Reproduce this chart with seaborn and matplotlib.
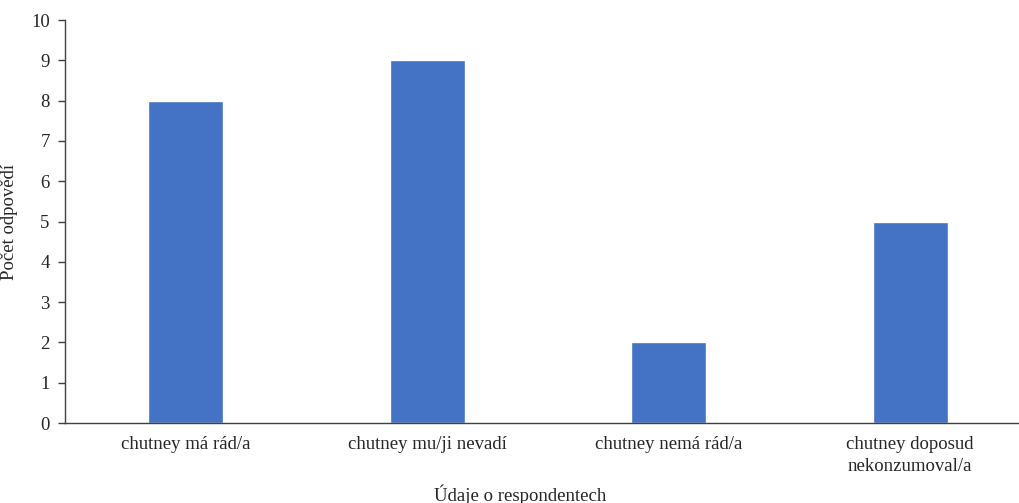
import matplotlib
matplotlib.use("Agg")
import matplotlib.pyplot as plt
import seaborn as sns
import pandas as pd

categories = ["chutney má rád/a", "chutney mu/ji nevadí", "chutney nemá rád/a",
              "chutney doposud\nnekonzumoval/a"]
counts = [8, 9, 2, 5]
y_ticks = list(range(0, 11))

sns.set_style("white")
plt.rcParams["font.family"] = ["Liberation Serif", "DejaVu Serif"]

df = pd.DataFrame({"kategorie": categories, "pocet": counts})

fig = plt.figure(figsize=(10.2, 5.03), dpi=100)
ax = fig.add_axes([0.0637, 0.159, 0.947, 0.801])

sns.barplot(data=df, x="kategorie", y="pocet", color="#4472C4", width=0.31,
            saturation=1, ax=ax)

ax.set_ylim(0, 10)
ax.set_xlim(-0.5, 3.5)
ax.set_yticks(y_ticks)
ax.tick_params(axis="y", length=5, width=1, color="#404040", labelsize=13.5, pad=6,
               left=True)
ax.tick_params(axis="x", length=0, labelsize=13.5, pad=9)
for lbl in ax.get_xticklabels():
    lbl.set_linespacing(1.45)
for s in ["top", "right"]:
    ax.spines[s].set_visible(False)
for s in ["left", "bottom"]:
    ax.spines[s].set_color("#404040")
    ax.spines[s].set_linewidth(1)

ax.set_xlabel("Údaje o respondentech", fontsize=13.5)
ax.set_ylabel("Počet odpovědí", fontsize=13.5)
ax.xaxis.set_label_coords(0.471, -0.152)
ax.yaxis.set_label_coords(-0.049, 0.5)

fig.savefig("out.png", dpi=100)
